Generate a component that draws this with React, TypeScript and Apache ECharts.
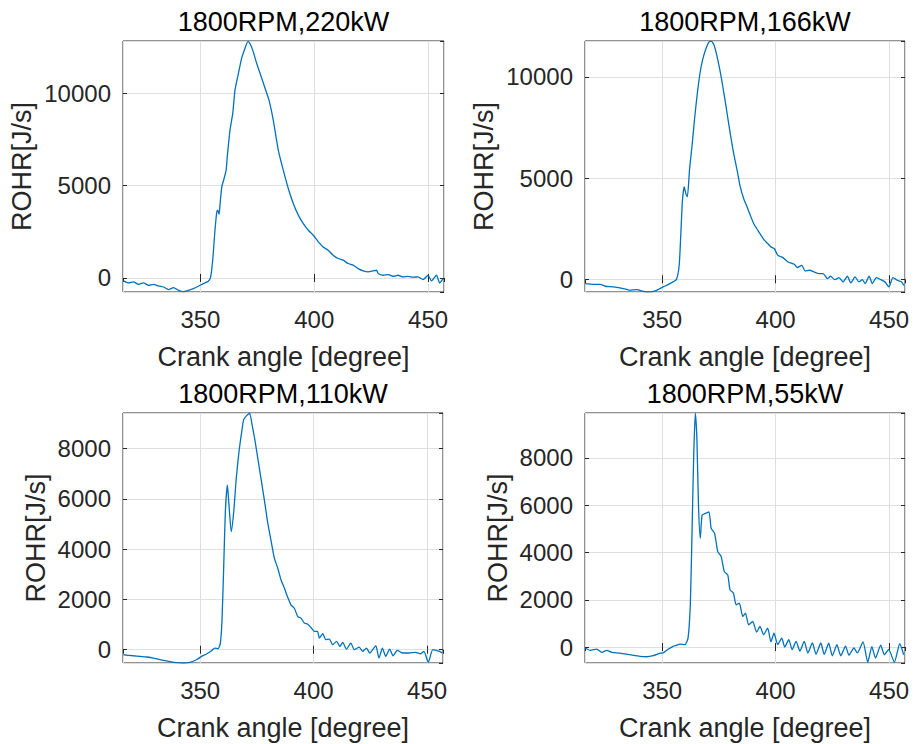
import React, { useEffect, useRef } from 'react';
import * as echarts from 'echarts';

const titles = ['1800RPM,220kW', '1800RPM,166kW', '1800RPM,110kW', '1800RPM,55kW'];
const xLabel = 'Crank angle [degree]';
const yLabel = 'ROHR[J/s]';
const xRange = [316, 457];
const xStep = 50;

const angle220 = [316.2, 318.4, 320.6, 322.8, 325, 327.2, 329.4, 331.6, 333.8, 336, 338.2, 340.4, 342.5, 344.7, 346.9, 349.1, 351.3, 353.5, 354.5, 355.4, 356.4, 357.2, 357.6, 358.2, 358.6, 359.4, 360.4, 361.3, 361.8, 363, 364.2, 365.2, 366.7, 368.1, 369.6, 370.9, 372.1, 373.2, 374.7, 376.2, 378.4, 380.1, 382, 384.2, 386.4, 388.6, 390.8, 393, 395.2, 397.4, 399.6, 401.8, 403.9, 406.1, 408.3, 410.5, 412.7, 414.9, 417.1, 419.3, 421.5, 423.7, 425.9, 427.4, 428.1, 430.3, 432.5, 434.6, 436.8, 439, 441.2, 443.4, 445.6, 447.8, 450, 451.5, 453.7, 455.1, 456.6];
const rohr220 = [-160, -270, -215, -345, -270, -400, -345, -435, -490, -630, -525, -670, -740, -670, -580, -450, -305, -180, 55, 955, 2580, 3580, 3670, 3450, 3940, 4930, 5380, 5830, 6560, 8000, 8900, 10170, 11070, 11880, 12430, 12800, 12600, 12240, 11610, 11070, 10260, 9630, 8540, 6920, 5830, 4840, 4030, 3400, 2940, 2580, 2310, 1950, 1680, 1500, 1230, 1050, 960, 780, 690, 505, 380, 325, 380, 417, 235, 145, 180, 90, 145, 55, 80, 40, 60, -90, 145, -160, 145, -270, -36];

const angle166 = [316.1, 319.7, 322.7, 324.9, 328.5, 332.9, 335.8, 338.7, 341.7, 344.6, 347.5, 349, 350.4, 352.6, 354.8, 356.3, 357.5, 358.2, 358.9, 359.7, 360.4, 361.1, 362.1, 363.2, 364.3, 365.5, 366.8, 368, 369.4, 370.6, 371.6, 372.8, 374.2, 375.7, 377.2, 378.6, 380.1, 381.5, 383, 384.4, 385.9, 387.4, 388.8, 390.3, 392.1, 393.5, 395, 396.5, 397.9, 399.4, 400.9, 403.1, 405.5, 408.2, 409.6, 411.5, 413, 415, 416.9, 419.1, 420.9, 422.8, 424.2, 426.1, 427.9, 429.7, 431.6, 433.1, 435, 436.7, 438.2, 439.4, 441.2, 442.6, 444.4, 446.3, 448.2, 449.9, 451.7, 453.6, 455.5, 456.5];
const rohr166 = [-215, -250, -250, -345, -380, -460, -545, -510, -595, -625, -545, -460, -380, -265, -130, -15, 690, 2180, 3830, 4570, 4240, 4075, 5480, 6630, 7950, 9190, 10260, 10920, 11420, 11715, 11765, 11580, 11000, 10180, 9190, 8200, 7130, 6220, 5400, 4570, 3990, 3580, 3170, 2755, 2425, 2180, 1930, 1765, 1600, 1520, 1190, 1080, 850, 740, 580, 690, 410, 445, 365, 280, 280, 35, 150, -15, 80, -130, 150, -180, 115, -130, -15, -215, 150, -215, 80, -15, -130, -380, 80, -50, -130, -300];

const angle110 = [316.2, 320.6, 323.5, 326.5, 329.4, 333.8, 336.7, 339.6, 342.5, 345.5, 348.4, 350.6, 352.8, 355, 356.4, 357.9, 358.9, 359.6, 360.4, 361.1, 362, 362.7, 363.7, 364.8, 365.9, 367.1, 368.1, 369.1, 370, 371, 371.8, 372.9, 374, 375.4, 376.9, 378.4, 379.8, 381.3, 382.7, 384.2, 385.6, 387.1, 388.6, 390, 391.5, 393, 394.4, 395.9, 397.3, 398.8, 400.3, 401.7, 402.5, 404, 405.4, 406.9, 408.4, 410.1, 411.6, 412.8, 414.5, 416.4, 417.9, 420.1, 421.5, 423.3, 424.7, 426.2, 427.4, 428.8, 430.3, 431.8, 433.5, 435, 436.9, 439.1, 442, 445, 447.1, 448.6, 450.5, 452.5, 454.4, 455.5, 456.6];
const rohr110 = [-200, -240, -265, -290, -330, -425, -475, -515, -528, -500, -400, -265, -170, -40, 65, 40, 265, 1125, 3375, 5490, 6550, 5750, 4700, 5490, 6810, 7870, 8530, 9130, 9260, 9350, 9410, 8930, 8400, 7610, 6750, 5890, 5030, 4300, 3640, 3240, 2780, 2450, 2080, 1785, 1650, 1320, 1255, 1060, 1020, 885, 730, 730, 465, 635, 400, 425, 200, 330, 130, 290, 25, 265, 0, 105, -65, 65, -130, 25, 160, -330, 65, -265, 25, -240, -25, -130, -130, -105, -160, -65, -500, 0, -40, -65, -130];

const angle55 = [316.1, 318.3, 321.2, 323.4, 325.6, 327.8, 331.4, 335.8, 340.2, 343.1, 346.1, 349.1, 350.4, 352.6, 354.8, 356.3, 357.8, 360, 361.4, 362.4, 363.1, 363.9, 364.6, 365.3, 366, 366.8, 367.6, 369, 370.6, 371.6, 373.1, 374.5, 376, 377.4, 378.9, 379.9, 381.4, 382.6, 384, 385.5, 386.7, 388.1, 389.9, 391.6, 393.1, 394.7, 396.5, 397.9, 399.3, 400.9, 402.7, 404, 405.8, 407.3, 409, 410.7, 412.6, 414.2, 416.2, 417.8, 419.9, 421.4, 423.4, 425, 427, 428.7, 430.8, 432.3, 434.5, 436, 438.5, 440.6, 442.4, 444, 446.3, 447.9, 449.8, 452.3, 454.7, 456.4];
const rohr55 = [-40, -140, -85, -225, -140, -225, -255, -325, -395, -410, -365, -258, -250, -95, 30, 70, 125, 100, 380, 1785, 4600, 8110, 9890, 8815, 6000, 4600, 5580, 5650, 5720, 5020, 4810, 4035, 3825, 3190, 3050, 2420, 2280, 1785, 1855, 1295, 1435, 940, 1080, 630, 870, 520, 800, 220, 590, 100, 380, 0, 310, -110, 240, -170, 240, -255, 170, -300, 170, -310, 160, -370, 100, -370, 40, -345, -40, -250, 220, -640, 15, -465, 80, -325, -100, -640, 140, -325];

const yMins = [-760, -629, -528, -675];
const yMaxs = [12817, 11767, 9413, 9899];
const ySteps = [5000, 5000, 2000, 2000];

const seriesX = [angle220, angle166, angle110, angle55];
const seriesY = [rohr220, rohr166, rohr110, rohr55];

const layouts = [
  { left: 123, top: 41, width: 321, height: 251, yNameGap: 88 },
  { left: 585, top: 41, width: 320, height: 251, yNameGap: 88 },
  { left: 123, top: 413, width: 320, height: 250, yNameGap: 74 },
  { left: 585, top: 413, width: 320, height: 250, yNameGap: 74 },
];

const FONT = '"Liberation Sans", Arial, Helvetica, sans-serif';
const AX = '#262626';

export default function App() {
  const ref = useRef<HTMLDivElement>(null);
  useEffect(() => {
    const chart = echarts.init(ref.current as HTMLDivElement, null, { renderer: 'svg' });
    const grid: any[] = [];
    const xAxis: any[] = [];
    const yAxis: any[] = [];
    const series: any[] = [];
    const graphic: any[] = [];
    const plain = (v: number) => String(v);
    layouts.forEach((L, i) => {
      grid.push({
        left: L.left, top: L.top, width: L.width, height: L.height,
        show: true, borderColor: AX, borderWidth: 1, backgroundColor: '#fff',
      });
      const tick = { show: true, inside: true, length: 4, lineStyle: { color: AX, width: 1 } };
      const xBase = {
        gridIndex: i, type: 'value', min: xRange[0], max: xRange[1],
        minInterval: xStep, maxInterval: xStep, splitNumber: 3,
        axisLine: { show: false }, axisTick: tick,
      };
      xAxis.push({
        ...xBase, position: 'bottom',
        axisLabel: { fontSize: 24, color: AX, margin: 15, fontFamily: FONT, showMinLabel: false, showMaxLabel: false, formatter: plain },
        splitLine: { show: true, lineStyle: { color: '#dfdfdf', width: 1 } },
        name: xLabel, nameLocation: 'middle', nameGap: 51,
        nameTextStyle: { fontSize: 27, color: AX, fontFamily: FONT },
      });
      xAxis.push({ ...xBase, position: 'top', axisLabel: { show: false }, splitLine: { show: false } });
      const yBase = {
        gridIndex: i, type: 'value', min: yMins[i], max: yMaxs[i],
        minInterval: ySteps[i], maxInterval: ySteps[i], splitNumber: 3,
        axisLine: { show: false }, axisTick: tick,
      };
      yAxis.push({
        ...yBase, position: 'left',
        axisLabel: { fontSize: 24, color: AX, margin: 12, fontFamily: FONT, showMinLabel: false, showMaxLabel: false, formatter: plain },
        splitLine: { show: true, lineStyle: { color: '#dfdfdf', width: 1 } },
        name: yLabel, nameLocation: 'middle', nameGap: L.yNameGap,
        nameTextStyle: { fontSize: 27, color: AX, fontFamily: FONT },
      });
      yAxis.push({ ...yBase, position: 'right', axisLabel: { show: false }, splitLine: { show: false } });
      series.push({
        type: 'line', xAxisIndex: i * 2, yAxisIndex: i * 2,
        data: seriesX[i].map((x, k) => [x, seriesY[i][k]]),
        showSymbol: false, symbol: 'none', clip: true, smooth: 0.2,
        lineStyle: { color: '#0072BD', width: 1.3 },
      });
      graphic.push({
        type: 'text', x: L.left + L.width / 2, y: L.top - 19,
        style: {
          text: titles[i], fill: '#000', fontSize: 27, fontFamily: FONT,
          textAlign: 'center', textVerticalAlign: 'middle',
        },
      });
    });
    chart.setOption({
      animation: false,
      backgroundColor: '#fff',
      textStyle: { fontFamily: FONT },
      grid, xAxis, yAxis, series, graphic,
    });
    return () => chart.dispose();
  }, []);
  return <div ref={ref} style={{ position: 'absolute', left: 0, top: 0, width: 915, height: 744 }} />;
}
